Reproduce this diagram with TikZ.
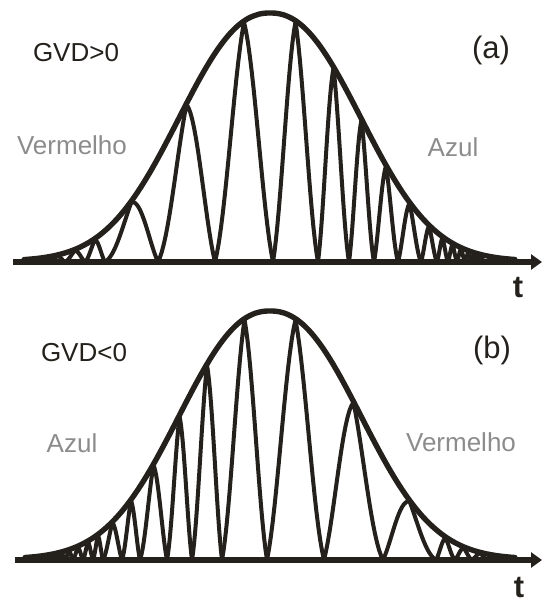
\documentclass[tikz,border=0pt]{standalone}
\usepackage{fontspec}
\setmainfont{Liberation Sans}
\usetikzlibrary{arrows.meta}
\definecolor{ink}{RGB}{36,32,28}
\definecolor{ghost}{RGB}{140,140,140}
\tikzset{
  declare function={envA(\x)=248*exp(-pow((abs(\x-270)+0.01)/118.6,2.25));
                    lobe(\u)=0.45*pow(sin(180*\u),2)+0.55*(1-abs(1-2*\u));},
  envelope/.style={draw=ink, line width=5.4pt, line cap=round, line join=round},
  wave/.style={draw=ink, line width=4pt, line cap=round, line join=round},
  axis/.style={draw=ink, line width=5.4pt, -{Triangle[length=11pt,width=15pt]}},
  lbl/.style={font=\fontsize{26}{26}\selectfont, text=ink, inner sep=0pt},
  tag/.style={font=\fontsize{31}{31}\selectfont, text=ink, inner sep=0pt},
  ghosttext/.style={font=\fontsize{26}{26}\selectfont, text=ghost, inner sep=0pt},
  tlabel/.style={font=\fontsize{31}{31}\selectfont\bfseries, text=ink, inner sep=0pt}
}
\begin{document}
\begin{tikzpicture}[x=1pt,y=-1pt]
\useasboundingbox (0,0) rectangle (542,609);
% ---------- panel (a) ----------
\coordinate (a0) at (13,262);
\coordinate (a1) at (542,262);
\draw[axis] (a0) -- (a1);
\foreach \a/\b in {50/65,65/85,85/105,105/158,158/215,215/273,273/318,318/349,349/374,374/398,398/421,421/437,437/448,448/457,457/465,465/472,472/478,478/484}
  \draw[wave] plot[domain=\a:\b, samples=31] (\x,{262-envA(\x)*lobe((\x-\a)/(\b-\a))});
\draw[envelope] plot[domain=24:515, samples=120, smooth] (\x,{261-envA(\x)});
\node[lbl] (gvdA) at (76,53) {GVD>0};
\node[tag] (tagA) at (491,50) {(a)};
\node[ghosttext] (redA) at (72,145) {Vermelho};
\node[ghosttext] (blueA) at (453,147) {Azul};
\node[tlabel] (tA) at (518,288) {t};
% ---------- panel (b) ----------
\coordinate (b0) at (15,560);
\coordinate (b1) at (542,560);
\draw[axis] (b0) -- (b1);
\foreach \a/\b in {52/58,58/65,65/73,73/83,83/93,93/103,103/122,122/140,140/167,167/192,192/222,222/267,267/324,324/383,383/436,436/455,455/472,472/488}
  \draw[wave] plot[domain=\a:\b, samples=31] (\x,{560-envA(\x)*lobe((\x-\a)/(\b-\a))});
\draw[envelope] plot[domain=25:515, samples=120, smooth] (\x,{559-envA(\x)});
\node[lbl] (gvdB) at (84,353) {GVD<0};
\node[tag] (tagB) at (492,350) {(b)};
\node[ghosttext] (blueB) at (72,443) {Azul};
\node[ghosttext] (redB) at (461,442) {Vermelho};
\node[tlabel] (tB) at (519,588) {t};
\end{tikzpicture}
\end{document}
